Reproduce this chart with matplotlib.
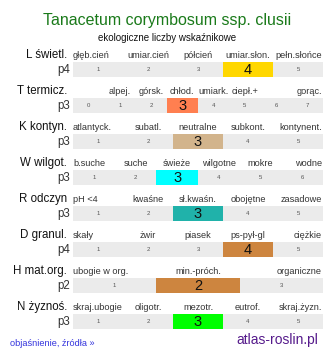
import matplotlib
matplotlib.use("Agg")
import matplotlib.pyplot as plt

plt.rcParams['font.family'] = ['Liberation Sans', 'DejaVu Sans']

title = "Tanacetum corymbosum ssp. clusii"
subtitle = "ekologiczne liczby wskaźnikowe"

row_names = ["L świetl.", "T termicz.", "K kontyn.", "W wilgot.",
             "R odczyn", "D granul.", "H mat.org.", "N żyznoś."]
row_codes = ["p4", "p3", "p3", "p3", "p3", "p4", "p2", "p3"]
values = [4, 3, 3, 3, 3, 4, 2, 3]
scale_start = [1, 0, 1, 1, 1, 1, 1, 1]
scale_labels = [
    ["głęb.cień", "umiar.cień", "półcień", "umiar.słon.", "pełn.słońce"],
    ["", "alpej.", "górsk.", "chłod.", "umiark.", "ciepł.+", "", "gorąc."],
    ["atlantyck.", "subatl.", "neutralne", "subkont.", "kontynent."],
    ["b.suche", "suche", "świeże", "wilgotne", "mokre", "wodne"],
    ["pH <4", "kwaśne", "sł.kwaśn.", "obojętne", "zasadowe"],
    ["skały", "żwir", "piasek", "ps-pył-gl", "ciężkie"],
    ["ubogie w org.", "min.-próch.", "organiczne"],
    ["skraj.ubogie", "oligotr.", "mezotr.", "eutrof.", "skraj.żyzn."],
]
value_colors = ["#ffd700", "#ff7f50", "#d2b48c", "#00ffff",
                "#20b2aa", "#cd853f", "#cd853f", "#00ff00"]

W, H = 334, 358
fig = plt.figure(figsize=(W / 100, H / 100), dpi=100)
ax = fig.add_axes([0, 0, 1, 1])
ax.set_xlim(0, W)
ax.set_ylim(H, 0)
ax.axis("off")

ax.text(167, 20, title, ha="center", va="center", fontsize=11.5, color="#1a7a1a")
ax.text(167, 38, subtitle, ha="center", va="center", fontsize=7, color="#111111")

x0, x1 = 73, 323
top0, step, bh = 62, 36, 15

for i, name in enumerate(row_names):
    labels = scale_labels[i]
    n = len(labels)
    w = (x1 - x0) / n
    top = top0 + i * step
    yc = top + bh / 2
    ax.text(67, top - 7, name, ha="right", va="center", fontsize=8.3, color="#111111")
    ax.text(70, yc, row_codes[i], ha="right", va="center", fontsize=8.3, color="#333333")
    for k, lab in enumerate(labels):
        num = scale_start[i] + k
        left = x0 + k * w
        is_val = num == values[i]
        ax.barh(yc, w, left=left, height=bh,
                color=value_colors[i] if is_val else "#ebebeb", linewidth=0)
        if is_val:
            ax.text(left + w / 2, yc + 0.5, str(num), ha="center", va="center",
                    fontsize=10.5, color="#111111")
        else:
            ax.text(left + w / 2, yc, str(num), ha="center", va="center",
                    fontsize=4.3, color="#555555")
        if k == 0:
            ax.text(x0, top - 7, lab, ha="left", va="center", fontsize=6.6, color="#333333")
        elif k == n - 1:
            ax.text(x1 - 1, top - 7, lab, ha="right", va="center", fontsize=6.6, color="#333333")
        else:
            ax.text(left + w / 2, top - 7, lab, ha="center", va="center", fontsize=6.6, color="#333333")

ax.text(10, 343, "objaśnienie, źródła »", ha="left", va="center", fontsize=6.6, color="#3333dd")
ax.text(318, 340, "atlas-roslin.pl", ha="right", va="center", fontsize=10, color="#551a8b")

fig.savefig("out.png", dpi=100)
